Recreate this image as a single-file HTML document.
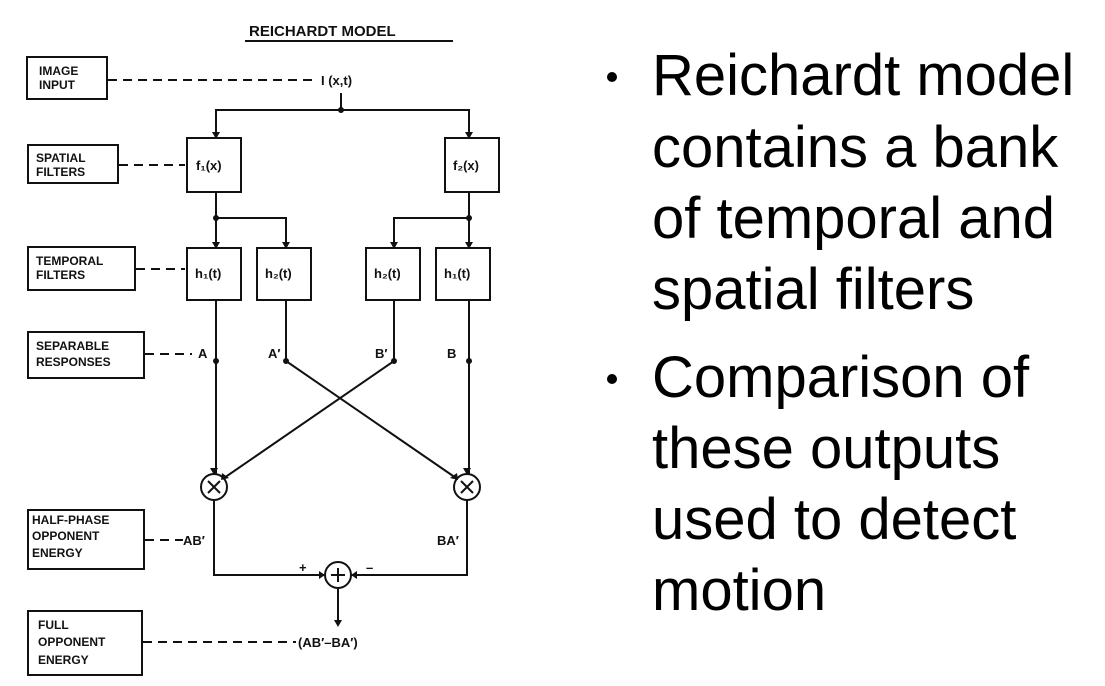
<!DOCTYPE html>
<html><head><meta charset="utf-8"><style>
html,body{margin:0;padding:0;background:#fff;}
body{width:1105px;height:686px;overflow:hidden;position:relative;}
svg{position:absolute;left:0;top:0;}
.d{font-family:"Liberation Sans",sans-serif;font-weight:bold;fill:#111;}
.t{font-family:"Liberation Sans",sans-serif;fill:#000;font-size:58px;}
</style></head><body>
<svg width="1105" height="686" viewBox="0 0 1105 686">
<g stroke="#111" stroke-width="2" fill="none">
<!-- title underline -->
<line x1="245" y1="41" x2="453" y2="41"/>
<!-- label boxes -->
<rect x="27" y="57" width="80" height="42"/>
<rect x="28" y="145" width="90" height="38"/>
<rect x="28" y="247" width="107" height="43"/>
<rect x="28" y="332" width="116" height="46"/>
<rect x="28" y="510" width="116" height="59"/>
<rect x="28" y="611" width="114" height="64"/>
<!-- dashed leaders -->
<g stroke-dasharray="9,6">
<line x1="108" y1="80" x2="313" y2="80"/>
<line x1="119" y1="165" x2="185" y2="165"/>
<line x1="136" y1="269" x2="185" y2="269"/>
<line x1="145" y1="354" x2="192" y2="354"/>
<line x1="145" y1="540" x2="183" y2="540"/>
<line x1="143" y1="642" x2="296" y2="642"/>
</g>
<!-- filter boxes -->
<rect x="187" y="138" width="54" height="54"/>
<rect x="445" y="138" width="54" height="54"/>
<rect x="187" y="248" width="54" height="52"/>
<rect x="257" y="248" width="54" height="52"/>
<rect x="366" y="248" width="54" height="52"/>
<rect x="436" y="248" width="54" height="52"/>
<!-- wiring -->
<polyline points="341,93 341,110"/>
<polyline points="216,137 216,110 469,110 469,137"/>
<line x1="216" y1="192" x2="216" y2="248"/>
<polyline points="216,218 286,218 286,248"/>
<line x1="469" y1="192" x2="469" y2="248"/>
<polyline points="469,218 394,218 394,248"/>
<line x1="216" y1="300" x2="216" y2="474"/>
<line x1="469" y1="300" x2="469" y2="474"/>
<line x1="286" y1="300" x2="286" y2="361"/>
<line x1="394" y1="300" x2="394" y2="361"/>
<line x1="286" y1="361" x2="456" y2="478"/>
<line x1="394" y1="361" x2="224" y2="478"/>
<circle cx="214" cy="487" r="13"/>
<circle cx="467" cy="487" r="13"/>
<path d="M208,481 L220,493 M220,481 L208,493"/>
<path d="M461,481 L473,493 M473,481 L461,493"/>
<polyline points="214,500 214,575 325,575"/>
<polyline points="467,500 467,575 351,575"/>
<circle cx="338" cy="575" r="13"/>
<path d="M338,568 L338,582 M331,575 L345,575"/>
<line x1="338" y1="588" x2="338" y2="625"/>
</g>
<g fill="#111">
<circle cx="341" cy="110" r="3"/>
<circle cx="216" cy="218" r="3"/><circle cx="469" cy="218" r="3"/>
<circle cx="216" cy="361" r="3"/><circle cx="286" cy="361" r="3"/>
<circle cx="394" cy="361" r="3"/><circle cx="469" cy="361" r="3"/>
<polygon points="212,132 220,132 216,139"/>
<polygon points="465,132 473,132 469,139"/>
<polygon points="212,242 220,242 216,249"/>
<polygon points="282,242 290,242 286,249"/>
<polygon points="390,242 398,242 394,249"/>
<polygon points="465,242 473,242 469,249"/>
<polygon points="210,468 218,468 214,475"/>
<polygon points="463,468 471,468 467,475"/>
<polygon points="222,473 229,478 221,480"/>
<polygon points="457,473 450,478 458,480"/>
<polygon points="319,571 319,579 325,575"/>
<polygon points="357,571 357,579 351,575"/>
<polygon points="334,620 342,620 338,627"/>
</g>
<g class="d">
<text x="249" y="36" font-size="15">REICHARDT MODEL</text>
<text x="39" y="75" font-size="12">IMAGE</text>
<text x="39" y="89" font-size="12">INPUT</text>
<text x="36" y="162" font-size="12">SPATIAL</text>
<text x="36" y="176" font-size="12">FILTERS</text>
<text x="36" y="265" font-size="12">TEMPORAL</text>
<text x="36" y="279" font-size="12">FILTERS</text>
<text x="36" y="350" font-size="12">SEPARABLE</text>
<text x="36" y="366" font-size="12">RESPONSES</text>
<text x="32" y="524" font-size="12">HALF-PHASE</text>
<text x="32" y="540" font-size="12">OPPONENT</text>
<text x="32" y="557" font-size="12">ENERGY</text>
<text x="38" y="629" font-size="12">FULL</text>
<text x="38" y="646" font-size="12">OPPONENT</text>
<text x="38" y="664" font-size="12">ENERGY</text>
<text x="321" y="85" font-size="13">I (x,t)</text>
<text x="196" y="170" font-size="13">f₁(x)</text>
<text x="453" y="170" font-size="13">f₂(x)</text>
<text x="195" y="278" font-size="13">h₁(t)</text>
<text x="265" y="278" font-size="13">h₂(t)</text>
<text x="374" y="278" font-size="13">h₂(t)</text>
<text x="444" y="278" font-size="13">h₁(t)</text>
<text x="198" y="358" font-size="13">A</text>
<text x="268" y="358" font-size="13">A′</text>
<text x="375" y="358" font-size="13">B′</text>
<text x="447" y="358" font-size="13">B</text>
<text x="183" y="545" font-size="13">AB′</text>
<text x="437" y="545" font-size="13">BA′</text>
<text x="299" y="572" font-size="13">+</text>
<text x="366" y="572" font-size="13">–</text>
<text x="298" y="647" font-size="13">(AB′–BA′)</text>
</g>
<g class="t">
<circle cx="612" cy="77" r="5" fill="#000"/>
<circle cx="612" cy="379" r="5" fill="#000"/>
<text x="652" y="95">Reichardt model</text>
<text x="652" y="167">contains a bank</text>
<text x="652" y="238">of temporal and</text>
<text x="652" y="309">spatial filters</text>
<text x="652" y="397">Comparison of</text>
<text x="652" y="468">these outputs</text>
<text x="652" y="539">used to detect</text>
<text x="652" y="610">motion</text>
</g>
</svg>
</body></html>
